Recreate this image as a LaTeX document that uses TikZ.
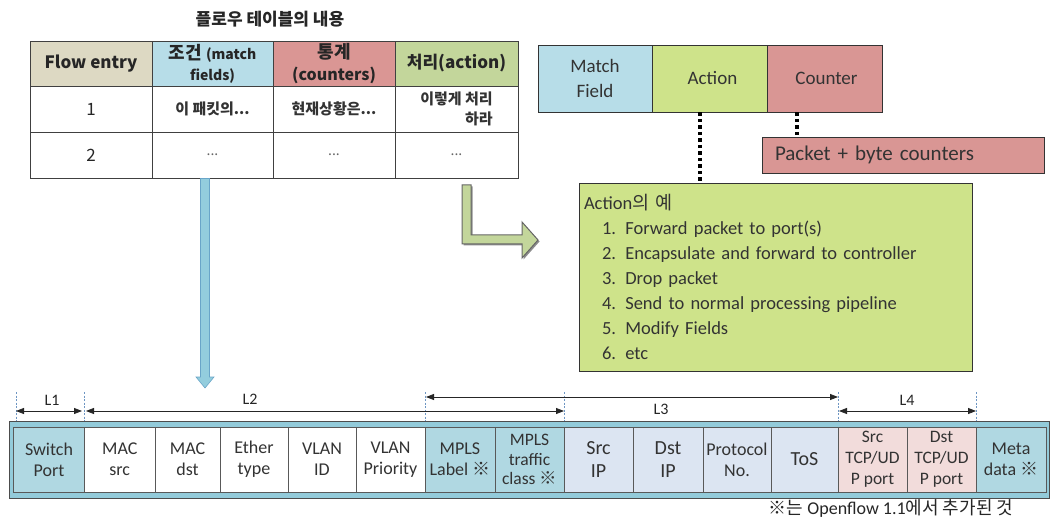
\documentclass[tikz,border=0pt]{standalone}
\usepackage{fontspec}
\setmainfont{Carlito}
\newfontfamily\kr{Noto Sans CJK KR}
\usetikzlibrary{arrows.meta}
\newcommand{\fs}[2]{\fontsize{#1}{#2}\selectfont}
\definecolor{tan}{RGB}{221,217,195}
\definecolor{lblue}{RGB}{183,221,232}
\definecolor{pinkh}{RGB}{218,150,148}
\definecolor{greenh}{RGB}{195,214,155}
\definecolor{lime}{RGB}{206,227,138}
\definecolor{rose}{RGB}{217,150,148}
\definecolor{framec}{RGB}{147,203,218}
\definecolor{tealc}{RGB}{176,216,226}
\definecolor{lav}{RGB}{220,229,242}
\definecolor{pinkc}{RGB}{242,220,219}
\definecolor{barrowfill}{RGB}{147,205,221}
\definecolor{barrowdraw}{RGB}{105,165,200}
\definecolor{garrowfill}{RGB}{195,214,155}
\definecolor{guidec}{RGB}{110,150,195}
\begin{document}
\begin{tikzpicture}[x=1pt,y=-1pt,
  tcell/.style={draw=black!75, line width=0.9pt, inner sep=0pt, align=center, text=black!85},
  rbox/.style={draw=black!80, line width=0.8pt, inner sep=0pt, align=center, text=black!80, font=\fs{19}{25}},
  fcell/.style={draw=black!65, line width=0.8pt, inner sep=0pt, minimum height=65, align=center, text=black!80, font=\fs{18}{21}},
  dotl/.style={line width=3.5pt, dash pattern=on 3.5pt off 3pt},
  guide/.style={draw=guidec, line width=0.5pt, dash pattern=on 2pt off 1.5pt},
  dimarr/.style={line width=0.8pt, black!85, {Triangle[length=8pt,width=6pt]}-{Triangle[length=8pt,width=6pt]}},
  dimlab/.style={font=\fs{16}{18}, text=black!85, inner sep=1pt}
]
\useasboundingbox (0,0) rectangle (1051,521);
\fill[white] (0,0) rectangle (1051,521);

% title
\node[font=\kr\bfseries\fs{17}{20}, text=black!85] (title) at (270,19) {플로우 테이블의 내용};

% table header
\node[tcell, fill=tan, minimum width=122, minimum height=45, font=\kr\bfseries\fs{17}{20}] (h1) at (91,63.5) {Flow entry};
\node[tcell, fill=lblue, minimum width=121, minimum height=45, font=\kr\bfseries\fs{14}{21}] (h2) at (212.5,63.5) {\fs{18}{21}조건 \fs{14}{21}(match\\fields)};
\node[tcell, fill=pinkh, minimum width=122, minimum height=45, font=\kr\bfseries\fs{16}{22}] (h3) at (334,63.5) {\fs{18}{22}통계\\\fs{16}{22}(counters)};
\node[tcell, fill=greenh, minimum width=123, minimum height=45, font=\kr\bfseries\fs{17}{20}] (h4) at (456.5,63.5) {처리(action)};
% row 1
\node[tcell, minimum width=122, minimum height=46, font=\kr\fs{17}{20}] (r1c1) at (91,109) {1};
\node[tcell, minimum width=121, minimum height=46, font=\kr\bfseries\fs{15}{20}, text=black!80] (r1c2) at (212.5,109) {이 패킷의...};
\node[tcell, minimum width=122, minimum height=46, font=\kr\bfseries\fs{15}{20}, text=black!80] (r1c3) at (334,109) {현재상황은...};
\node[tcell, minimum width=123, minimum height=46, font=\kr\bfseries\fs{15}{20}, text=black!80, align=right] (r1c4) at (456.5,109) {이렇게 처리\\하라};
% row 2
\node[tcell, minimum width=122, minimum height=46, font=\kr\fs{17}{20}] (r2c1) at (91,155) {2};
\node[tcell, minimum width=121, minimum height=46, font=\kr\fs{14}{20}, text=black!60] (r2c2) at (212.5,155) {...};
\node[tcell, minimum width=122, minimum height=46, font=\kr\fs{14}{20}, text=black!60] (r2c3) at (334,155) {...};
\node[tcell, minimum width=123, minimum height=46, font=\kr\fs{14}{20}, text=black!60] (r2c4) at (456.5,155) {...};

% top right boxes
\node[rbox, fill=lblue, minimum width=114, minimum height=67] (mf) at (595,78.5) {Match\\Field};
\node[rbox, fill=lime, minimum width=115, minimum height=67] (act) at (709.5,78.5) {\hspace*{6pt}Action};
\node[rbox, fill=rose, minimum width=115, minimum height=67] (cnt) at (824.5,78.5) {\hspace*{4pt}Counter};
\node[rbox, fill=rose, minimum height=36, text width=256, inner xsep=13pt, align=left, font=\fs{21}{25}] (pkt) at (903,155) {Packet + byte counters};

\node[rbox, fill=lime, text width=383, inner xsep=5pt, minimum height=188, align=left, font=\fs{18.5}{25}] (ex) at (775.5,277)
 {Action{\kr 의 예}\\
  \hspace*{18pt}1. Forward packet to port(s)\\
  \hspace*{18pt}2. Encapsulate and forward to controller\\
  \hspace*{18pt}3. Drop packet\\
  \hspace*{18pt}4. Send to normal processing pipeline\\
  \hspace*{18pt}5. Modify Fields\\
  \hspace*{18pt}6. etc};

% dotted connectors
\coordinate (d1) at ([xshift=-9.5pt]act.south);
\coordinate (d2) at ([xshift=-27.5pt]cnt.south);
\draw[dotl] (d1) -- (d1 |- ex.north);
\draw[dotl] (d2) -- (d2 |- pkt.north);

% blue down arrow
\coordinate (ba) at (205,178.5);
\coordinate (bt) at (205,388);
\draw[fill=barrowfill, draw=barrowdraw, line width=0.6pt]
  (200.5,178.5) -- (200.5,377) -- (196,377) -- (bt) -- (214,377) -- (209.5,377) -- (209.5,178.5) -- cycle;

% green bent arrow
\fill[black!45] (463.5,186.5) -- (472.5,186.5) -- (472.5,236.5) -- (523.5,236.5) -- (523.5,223.5) -- (539.5,241.5) -- (523.5,259.5) -- (523.5,245.5) -- (463.5,245.5) -- cycle;
\draw[fill=garrowfill, draw=black!60, line width=1pt]
  (462,185) -- (471,185) -- (471,235) -- (522,235) -- (522,222) -- (538,240) -- (522,258) -- (522,244) -- (462,244) -- cycle;

% bottom frame
\node[draw=black!70, line width=0.9pt, fill=framec, minimum width=1040, minimum height=77, inner sep=0pt] (frame) at (529,459.5) {};
\node[fcell, fill=tealc, minimum width=71] (f1) at (49,459.5) {Switch\\Port};
\node[fcell, fill=white, minimum width=70.5] (f2) at (119.75,459.5) {MAC\\src};
\node[fcell, fill=white, minimum width=65] (f3) at (187.5,459.5) {MAC\\dst};
\node[fcell, fill=white, minimum width=68] (f4) at (254,459.5) {Ether\\type};
\node[fcell, fill=white, minimum width=68] (f5) at (322,459.5) {VLAN\\ID};
\node[fcell, fill=white, minimum width=69] (f6) at (390.5,459.5) {VLAN\\Priority};
\node[fcell, fill=tealc, minimum width=70] (f7) at (460,459.5) {MPLS\\Label {\kr ※}};
\node[fcell, fill=tealc, minimum width=69, font=\fs{17.5}{19.5}] (f8) at (529.5,459.5) {MPLS\\traffic\\class {\kr ※}};
\node[fcell, fill=lav, minimum width=69, font=\fs{20}{23}] (f9) at (598.5,459.5) {Src\\IP};
\node[fcell, fill=lav, minimum width=70, font=\fs{20}{23}] (f10) at (668,459.5) {Dst\\IP};
\node[fcell, fill=lav, minimum width=68] (f11) at (737,459.5) {Protocol\\No.};
\node[fcell, fill=lav, minimum width=67, font=\fs{20}{23}] (f12) at (804.5,459.5) {ToS};
\node[fcell, fill=pinkc, minimum width=69, font=\fs{17.5}{21}] (f13) at (872.5,459.5) {Src\\TCP/UD\\P port};
\node[fcell, fill=pinkc, minimum width=69, font=\fs{17.5}{21}] (f14) at (941.5,459.5) {Dst\\TCP/UD\\P port};
\node[fcell, fill=tealc, minimum width=70] (f15) at (1011,459.5) {Meta\\data {\kr ※}};

% guides
\coordinate (g0) at (16,392);
\coordinate (g1) at (84.5,392);
\coordinate (g2) at (425.5,392);
\coordinate (g3) at (564,392);
\coordinate (g4) at (838.5,392);
\coordinate (g5) at (976,392);
\foreach \g in {g0,g1,g2,g3,g4,g5} \draw[guide] (\g) -- (\g |- frame.north);

% dimension lines
\coordinate (l1a) at (16,411);  \coordinate (l1b) at (82,411);
\coordinate (l2a) at (86,411);  \coordinate (l2b) at (564,411);
\coordinate (l3a) at (426,397); \coordinate (l3b) at (838,397);
\coordinate (l4a) at (839,411); \coordinate (l4b) at (976,411);
\draw[dimarr] (l1a) -- (l1b);
\draw[dimarr] (l2a) -- (l2b);
\draw[dimarr] (l3a) -- (l3b);
\draw[dimarr] (l4a) -- (l4b);
\node[dimlab] (L1) at (52,400) {L1};
\node[dimlab] (L2) at (250,399) {L2};
\node[dimlab] (L3) at (661,409) {L3};
\node[dimlab] (L4) at (907,400) {L4};

% footnote
\node[font=\fs{18}{20}, text=black!85, inner sep=0pt] (note) at (891,509) {{\kr ※는} Openflow 1.1{\kr 에서 추가된 것}};
\end{tikzpicture}
\end{document}
